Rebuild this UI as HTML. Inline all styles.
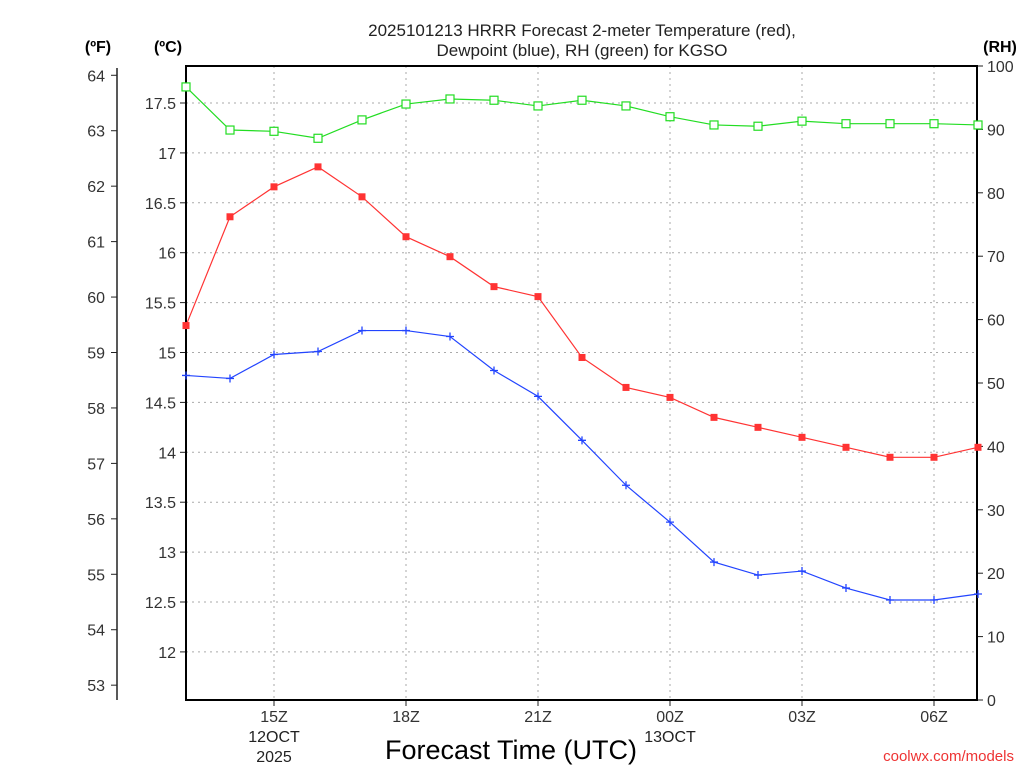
<!DOCTYPE html>
<html><head><meta charset="utf-8"><style>
body{margin:0;background:#fff}
svg text{font-family:"Liberation Sans",sans-serif}
</style></head><body>
<svg id="c" width="1024" height="768" xmlns="http://www.w3.org/2000/svg"></svg>
<script>
const hours=[13,14,15,16,17,18,19,20,21,22,23,24,25,26,27,28,29,30,31];
const tempC=[15.27,16.36,16.66,16.86,16.56,16.16,15.96,15.66,15.56,14.95,14.65,14.55,14.35,14.25,14.15,14.05,13.95,13.95,14.05];
const dewC=[14.77,14.74,14.98,15.01,15.22,15.22,15.16,14.82,14.56,14.12,13.67,13.30,12.90,12.77,12.81,12.64,12.52,12.52,12.58];
const rh=[96.7,89.9,89.7,88.6,91.5,94.0,94.8,94.6,93.7,94.6,93.7,92.0,90.7,90.5,91.3,90.9,90.9,90.9,90.7];
const cTicks=["12","12.5","13","13.5","14","14.5","15","15.5","16","16.5","17","17.5"];
const fTicks=["53","54","55","56","57","58","59","60","61","62","63","64"];
const rhTicks=["0","10","20","30","40","50","60","70","80","90","100"];
const xTicks=[15,18,21,24,27,30];
const xLabels=["15Z","18Z","21Z","00Z","03Z","06Z"];
const L=186,R=977,T=66,B=700;
const X=h=>L+(h-13)*44;
const YC=c=>103+(17.5-c)*99.8;
const YF=f=>YC((f-32)/1.8);
const YR=r=>B-r*6.34;
const s=document.getElementById('c');const NS="http://www.w3.org/2000/svg";
function el(t,a,txt){const e=document.createElementNS(NS,t);for(const k in a)e.setAttribute(k,a[k]);if(txt!==undefined)e.textContent=txt;s.appendChild(e);return e;}
xTicks.forEach(h=>{const e=el('line',{x1:X(h),x2:X(h),y1:T,y2:B,stroke:'#aaa','stroke-dasharray':'2,4'});
});
cTicks.forEach(t=>{const y=YC(+t);const e=el('line',{x1:L,x2:R,y1:y,y2:y,stroke:'#aaa','stroke-dasharray':'2,4'});

el('line',{x1:L-6,x2:L,y1:y,y2:y,stroke:'#222'});
const tx=el('text',{x:L-10,y:y+6,'text-anchor':'end','font-size':16,fill:'#333'},t);
});
fTicks.forEach(t=>{const y=YF(+t);el('line',{x1:111,x2:117,y1:y,y2:y,stroke:'#222'});
const tx=el('text',{x:105,y:y+6,'text-anchor':'end','font-size':16,fill:'#333'},t);
});
el('line',{x1:117,x2:117,y1:68,y2:700,stroke:'#222','stroke-width':1.5});
rhTicks.forEach(t=>{const y=YR(+t);el('line',{x1:R,x2:R+6,y1:y,y2:y,stroke:'#222'});
const tx=el('text',{x:987,y:y+6,'font-size':16,fill:'#333'},t);
});
xTicks.forEach((h,i)=>{el('line',{x1:X(h),x2:X(h),y1:B,y2:B+6,stroke:'#222'});
const tx=el('text',{x:X(h),y:722,'text-anchor':'middle','font-size':16,fill:'#333'},xLabels[i]);
});
const plot=el('rect',{x:L,y:T,width:R-L,height:B-T,fill:'none',stroke:'#000','stroke-width':2});

function series(vals,yf,color,name,mk){
 const p=el('polyline',{points:vals.map((v,i)=>X(hours[i])+','+yf(v)).join(' '),fill:'none',stroke:color,'stroke-width':1.2});
 
 vals.forEach((v,i)=>{const x=X(hours[i]),y=yf(v);let m;
  if(mk==='fill')m=el('rect',{x:x-3.5,y:y-3.5,width:7,height:7,fill:color});
  else if(mk==='open')m=el('rect',{x:x-4,y:y-4,width:8,height:8,fill:'#fff',stroke:color,'stroke-width':1.2});
  else m=el('path',{d:`M${x-4},${y}H${x+4}M${x},${y-4}V${y+4}`,stroke:color,'stroke-width':1.3});
  });
}
series(rh,YR,'#22dd22','rh','open');
series(tempC,YC,'#ff3333','temperature','fill');
series(dewC,YC,'#2244ff','dewpoint','plus');
</script>
<svg style="position:absolute;left:0;top:0" width="1024" height="768" xmlns="http://www.w3.org/2000/svg">
<g font-family="Liberation Sans, sans-serif" fill="#222">
<text x="582" y="36" text-anchor="middle" font-size="17">2025101213 HRRR Forecast 2-meter Temperature (red),</text>
<text x="582" y="56" text-anchor="middle" font-size="17">Dewpoint (blue), RH (green) for KGSO</text>
<text x="98" y="52" text-anchor="middle" font-size="16" font-weight="bold" fill="#000">(ºF)</text>
<text x="168" y="52" text-anchor="middle" font-size="16" font-weight="bold" fill="#000">(ºC)</text>
<text x="1000" y="52" text-anchor="middle" font-size="16" font-weight="bold" fill="#000">(RH)</text>
<text x="274" y="742" text-anchor="middle" font-size="16">12OCT</text>
<text x="274" y="762" text-anchor="middle" font-size="16">2025</text>
<text x="670" y="742" text-anchor="middle" font-size="16">13OCT</text>
<text x="511" y="759" text-anchor="middle" font-size="27" fill="#000">Forecast Time (UTC)</text>
<text x="1014" y="761" text-anchor="end" font-size="15" fill="#ee3333">coolwx.com/models</text>
</g></svg>
</body></html>
